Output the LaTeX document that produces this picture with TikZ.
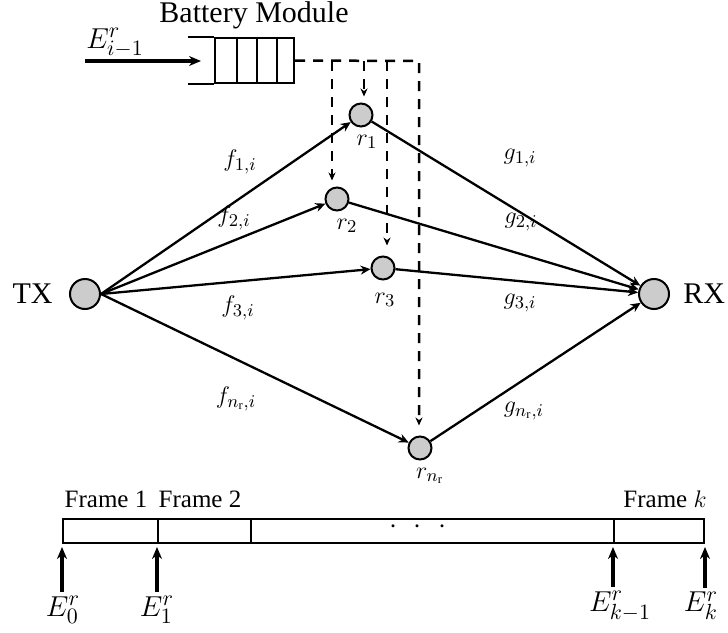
\documentclass[tikz,border=0pt]{standalone}
\usepackage{fontspec}
\setmainfont{Liberation Serif}
\usetikzlibrary{arrows.meta}
\begin{document}
\begin{tikzpicture}[x=.5pt,y=-.5pt,
  relay/.style={circle,draw,fill=gray!40,line width=1pt,inner sep=0pt,minimum size=11.5pt},
  term/.style={circle,draw,fill=gray!40,line width=1pt,inner sep=0pt,minimum size=15pt},
  link/.style={line width=1.15pt,-{Stealth[length=5pt,width=4.5pt]}},
  feed/.style={line width=1.25pt,dash pattern=on 5pt off 4pt,-{Stealth[length=4pt,width=3.5pt]}},
  energy/.style={line width=2pt,-{Stealth[length=6pt,width=5pt]}},
  frame/.style={draw,line width=1pt,minimum height=12pt,inner sep=0pt},
  lab/.style={inner sep=0pt,font=\fontsize{12.5}{15}\selectfont},
  big/.style={inner sep=0pt,font=\fontsize{15}{18}\selectfont}]
\path[use as bounding box] (0,0) rectangle (728,632);
% terminals and relays
\node[term] (tx) at (85,294) {};
\node[term] (rx) at (654,294) {};
\node[big,anchor=east] (txlab) at (53,294) {TX};
\node[big,anchor=west] (rxlab) at (683,294) {RX};
\node[relay] (r1) at (361,115) {};
\node[relay] (r2) at (337,199) {};
\node[relay] (r3) at (383,268) {};
\node[relay] (rn) at (420,448) {};
\node[lab] (r1lab) at (367,142) {$r_1$};
\node[lab] (r2lab) at (347,226) {$r_2$};
\node[lab] (r3lab) at (385,300) {$r_3$};
\node[lab] (rnlab) at (430,476) {$r_{n_{\mathrm{r}}}$};
% links
\foreach \r in {r1,r2,r3,rn} {
  \draw[link] (tx.east) -- (\r);
  \draw[link] (\r) -- (rx);
}
\node[lab] (f1) at (240,162) {$f_{1,i}$};
\node[lab] (f2) at (234,218) {$f_{2,i}$};
\node[lab] (f3) at (238,308) {$f_{3,i}$};
\node[lab] (fn) at (236,399) {$f_{n_{\mathrm{r}},i}$};
\node[lab] (g1) at (520,158) {$g_{1,i}$};
\node[lab] (g2) at (521,222) {$g_{2,i}$};
\node[lab] (g3) at (520,303) {$g_{3,i}$};
\node[lab] (gn) at (524,411) {$g_{n_{\mathrm{r}},i}$};
% battery module
\node[draw,line width=1.2pt,minimum width=39.5pt,minimum height=22.5pt,inner sep=0pt] (battery) at (254.5,60.5) {};
\draw[line width=1.2pt] (battery.north west) -- ++(-26,0);
\draw[line width=1.2pt] (battery.south west) -- ++(-26,0);
\foreach \x in {237,257,277}
  \draw[line width=1.2pt] (\x,38) -- (\x,83);
\node[big,anchor=base] (batlab) at (254,22) {Battery Module};
\coordinate (inflow) at (85,61);
\coordinate (mouth) at (201,61);
\draw[energy] (inflow) -- (mouth);
\node[big] (ein) at (115,43) {$E^r_{i-1}$};
% energy feed to relays
\coordinate (d1) at (332,61);
\coordinate (d2) at (364,61);
\coordinate (d3) at (387,61);
\coordinate (d4) at (419,61);
\draw[feed,shorten >=5pt] (battery.east) -- (d4) -- (d4 |- rn.north);
\draw[feed,shorten >=3pt] (d1) -- (d1 |- r2.north);
\draw[feed,shorten >=3pt] (d2) -- (d2 |- r1.north);
\draw[feed,shorten >=5pt] (d3) -- (d3 |- r3.north);
% frames
\node[frame,minimum width=47.5pt] (fr1) at (110.5,531) {};
\node[frame,minimum width=46.5pt] (fr2) at (204.5,531) {};
\node[frame,minimum width=181.5pt] (frm) at (432.5,531) {};
\node[frame,minimum width=45pt] (frk) at (659,531) {};
\node[big] (dots) at (418,527) {$\cdot\hspace{5pt}\cdot\hspace{5pt}\cdot$};
\node[lab,anchor=base] (fr1lab) at (106,507) {Frame 1};
\node[lab,anchor=base] (fr2lab) at (200,507) {Frame 2};
\node[lab,anchor=base] (frklab) at (665,507) {Frame $k$};
\node[big,inner sep=2pt] (e0) at (63,610) {$E^r_0$};
\node[big,inner sep=2pt] (e1) at (157,610) {$E^r_1$};
\node[big,inner sep=2pt] (ek1) at (620,606) {$E^r_{k-1}$};
\node[big,inner sep=2pt] (ek) at (701,606) {$E^r_k$};
\draw[energy,shorten >=1.5pt] (e0.north -| fr1.south west) -- (fr1.south west);
\draw[energy,shorten >=1.5pt] (e1.north -| fr2.south west) -- (fr2.south west);
\draw[energy,shorten >=1.5pt] (ek1.north -| frk.south west) -- (frk.south west);
\draw[energy,shorten >=1.5pt] (ek.north -| frk.south east) -- (frk.south east);
\end{tikzpicture}
\end{document}
